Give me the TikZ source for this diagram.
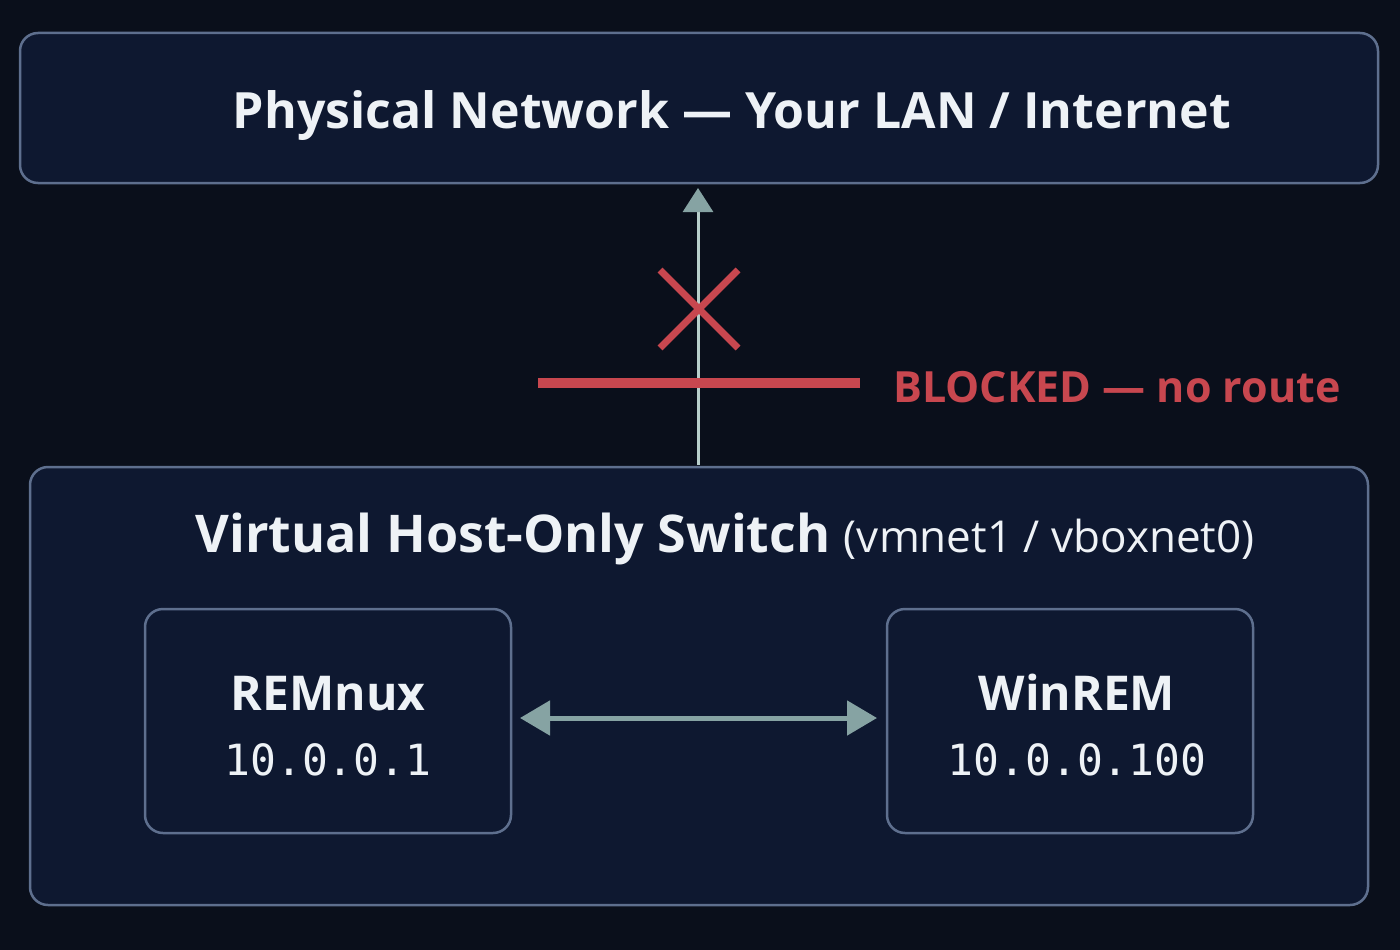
\documentclass[tikz,border=0pt]{standalone}
\usepackage{fontspec}
\setmainfont{Open Sans}
\newfontfamily\monof{DejaVu Sans Mono}
\usetikzlibrary{arrows.meta}
\definecolor{bg}{HTML}{0A0F1B}
\definecolor{boxf}{HTML}{0E1830}
\definecolor{boxd}{HTML}{5E6F8E}
\definecolor{txt}{HTML}{EEF2F6}
\definecolor{redx}{HTML}{C8474F}
\definecolor{teal}{HTML}{86A3A3}
\definecolor{vline}{HTML}{B8CFCB}
\begin{document}
\begin{tikzpicture}[x=1pt,y=-1pt,
  box/.style={draw=boxd,line width=2.5pt,fill=boxf,rounded corners=18pt},
  t/.style={text=txt,inner sep=0pt,anchor=base}]
\fill[bg] (0,0) rectangle (1400,950);
\useasboundingbox (0,0) rectangle (1400,950);
\draw[box] (20,33) rectangle (1378,183);
\coordinate (topS) at (698,188);
\node[t,font=\bfseries\fontsize{50}{54}\selectfont] (phys) at (732,128) {Physical Network — Your LAN / Internet};
\draw[box] (30,467) rectangle (1368,905);
\coordinate (botN) at (698,465);
\node[t,font=\fontsize{52}{56}\selectfont] (sw) at (725,552) {\bfseries Virtual Host-Only Switch {\mdseries\fontsize{44}{48}\selectfont(vmnet1 / vboxnet0)}};
\draw[box] (145,609) rectangle (511,833);
\draw[box] (887,609) rectangle (1253,833);
\node[t,font=\bfseries\fontsize{48}{52}\selectfont] (rem) at (328,710) {REMnux};
\node[t,font=\monof\fontsize{43}{46}\selectfont] (remip) at (328,775) {10.0.0.1};
\node[t,font=\bfseries\fontsize{48}{52}\selectfont] (win) at (1077,710) {WinREM};
\node[t,font=\monof\fontsize{43}{46}\selectfont] (winip) at (1077,775) {10.0.0.100};
\coordinate (la) at (520,718); \coordinate (ra) at (877,718);
\draw[teal,line width=5pt,{Triangle[length=30pt,width=34pt]}-{Triangle[length=30pt,width=34pt]}] (la) -- (ra);
\draw[vline,line width=3pt,-{Triangle[length=24pt,width=30pt,fill=teal,color=teal]}] (botN) -- (topS);
\draw[redx,line width=10pt] (538,383) -- (860,383);
\draw[redx,line width=7pt] (660,270) -- (738,348) (738,270) -- (660,348);
\node[t,anchor=base west,text=redx,font=\bfseries\fontsize{43}{46}\selectfont] (blk) at (893,402) {BLOCKED — no route};
\end{tikzpicture}
\end{document}
